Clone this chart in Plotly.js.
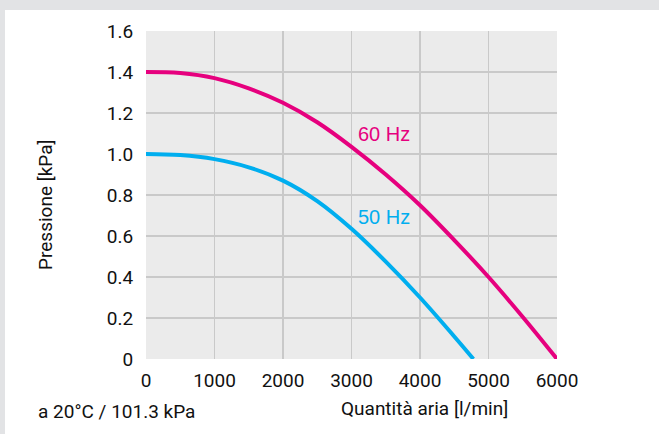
<!DOCTYPE html>
<html>
<head>
<meta charset="utf-8">
<script src="https://cdn.plot.ly/plotly-3.0.1.min.js"></script>
<style>
  html, body { margin: 0; padding: 0; background: #e2e3e5; width: 659px; height: 434px; overflow: hidden; }
  #chart { position: absolute; left: 5px; top: 10px; width: 654px; height: 424px; }
</style>
</head>
<body>
<div id="chart"></div>
<script>
const flow60 = [0, 500, 1000, 1500, 2000, 2500, 3000, 3500, 4000, 4500, 5000, 5500, 6000];
const press60 = [1.40, 1.395, 1.37, 1.32, 1.25, 1.155, 1.035, 0.9, 0.75, 0.58, 0.40, 0.205, 0];
const flow50 = [0, 500, 1000, 1500, 2000, 2500, 3000, 3500, 4000, 4500, 4780];
const press50 = [1.0, 0.995, 0.975, 0.935, 0.87, 0.77, 0.635, 0.475, 0.30, 0.11, 0];
const xTicks = [0, 1000, 2000, 3000, 4000, 5000, 6000];
const yTicks = [0, 0.2, 0.4, 0.6, 0.8, 1.0, 1.2, 1.4, 1.6];
const yTickText = ['0', '0.2', '0.4', '0.6', '0.8', '1.0', '1.2', '1.4', '1.6'];

const magenta = '#e6007e';
const cyan = '#00aeef';
const fontFam = 'Roboto, "Liberation Sans", sans-serif';
const labelFont = { family: fontFam, size: 19, color: '#111' };

const traces = [
  { x: flow60, y: press60, mode: 'lines', line: { color: magenta, width: 4, shape: 'spline', smoothing: 1 }, hoverinfo: 'skip' },
  { x: flow50, y: press50, mode: 'lines', line: { color: cyan, width: 4, shape: 'spline', smoothing: 1 }, hoverinfo: 'skip' }
];

const layout = {
  width: 654, height: 424,
  margin: { l: 141, r: 102, t: 21, b: 75 },
  paper_bgcolor: '#ffffff',
  plot_bgcolor: '#ebebeb',
  showlegend: false,
  font: labelFont,
  xaxis: {
    range: [0, 6000], tickvals: xTicks, ticktext: xTicks.map(String),
    showgrid: true, gridcolor: '#c9c9c9', gridwidth: 1.5, zeroline: false, showline: false,
    ticks: 'outside', ticklen: 4, tickcolor: 'rgba(0,0,0,0)',
    tickfont: labelFont, fixedrange: true
  },
  yaxis: {
    range: [0, 1.6], tickvals: yTicks, ticktext: yTickText,
    showgrid: true, gridcolor: '#c9c9c9', gridwidth: 1.5, zeroline: false, showline: false,
    ticks: 'outside', ticklen: 8, tickcolor: 'rgba(0,0,0,0)',
    tickfont: labelFont, fixedrange: true
  },
  annotations: [
    { x: 3060, y: 1.097, xref: 'x', yref: 'y', text: '60 Hz', showarrow: false, xanchor: 'left', yanchor: 'middle',
      font: { family: '"Liberation Sans", Arial, sans-serif', size: 20, color: magenta } },
    { x: 3060, y: 0.693, xref: 'x', yref: 'y', text: '50 Hz', showarrow: false, xanchor: 'left', yanchor: 'middle',
      font: { family: '"Liberation Sans", Arial, sans-serif', size: 20, color: cyan } },
    { x: 419, y: 398, xref: 'paper', yref: 'paper', text: 'Quantità aria [l/min]', showarrow: false, xanchor: 'center', yanchor: 'middle',
      font: labelFont },
    { x: 31, y: 401, xref: 'paper', yref: 'paper', text: 'a 20°C / 101.3 kPa', showarrow: false, xanchor: 'left', yanchor: 'middle',
      font: labelFont },
    { x: 40, y: 195, xref: 'paper', yref: 'paper', text: 'Pressione [kPa]', showarrow: false, textangle: -90, xanchor: 'center', yanchor: 'middle',
      font: labelFont }
  ]
};

// convert pixel-based annotation positions (relative to the div) into paper coordinates
const pw = layout.width - layout.margin.l - layout.margin.r;
const ph = layout.height - layout.margin.t - layout.margin.b;
layout.annotations.forEach(a => {
  if (a.xref === 'paper') {
    a.x = (a.x - layout.margin.l) / pw;
    a.y = 1 - (a.y - layout.margin.t) / ph;
  }
});

Plotly.newPlot('chart', traces, layout, { staticPlot: true, displayModeBar: false });
</script>
</body>
</html>
